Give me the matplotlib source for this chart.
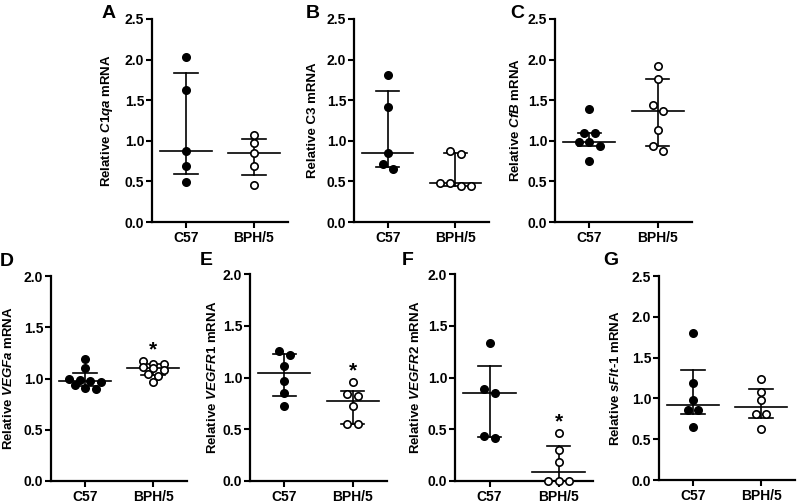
import numpy as np
import matplotlib
matplotlib.use('Agg')
import matplotlib.pyplot as plt

plt.rcParams['font.family'] = ['Liberation Sans', 'DejaVu Sans']
plt.rcParams['font.weight'] = 'bold'
plt.rcParams['mathtext.fontset'] = 'custom'
plt.rcParams['mathtext.it'] = 'Liberation Sans:italic:bold'
plt.rcParams['mathtext.rm'] = 'Liberation Sans:bold'

#------------------------------------------------------------------------------#
# values (relative mRNA, one per animal)

groups = ['C57', 'BPH/5']

c1qa_c57 = [2.03, 1.63, 0.88, 0.69, 0.49]
c1qa_bph = [1.07, 0.97, 0.85, 0.69, 0.46]
c3_c57 = [1.81, 1.42, 0.85, 0.71, 0.65]
c3_bph = [0.87, 0.84, 0.48, 0.48, 0.44, 0.44]
cfb_c57 = [1.39, 1.09, 1.09, 0.99, 0.99, 0.93, 0.75]
cfb_bph = [1.92, 1.76, 1.44, 1.37, 1.13, 0.94, 0.87]
vegfa_c57 = [1.19, 1.10, 1.00, 0.99, 0.98, 0.97, 0.94, 0.91, 0.90]
vegfa_bph = [1.17, 1.14, 1.14, 1.11, 1.10, 1.08, 1.04, 1.02, 0.97]
vegfr1_c57 = [1.26, 1.22, 1.11, 0.97, 0.85, 0.72]
vegfr1_bph = [0.96, 0.84, 0.82, 0.72, 0.55, 0.55]
vegfr2_c57 = [1.33, 0.89, 0.85, 0.43, 0.42]
vegfr2_bph = [0.46, 0.30, 0.18, 0.0, 0.0, 0.0]
sflt1_c57 = [1.80, 1.19, 0.98, 0.86, 0.86, 0.65]
sflt1_bph = [1.24, 1.08, 0.98, 0.81, 0.81, 0.62]

letters = ['A', 'B', 'C', 'D', 'E', 'F', 'G']
ylabels = ['Relative $\\mathit{C1qa}$ mRNA', 'Relative C3 mRNA',
           'Relative $\\mathit{CfB}$ mRNA', 'Relative $\\mathit{VEGFa}$ mRNA',
           'Relative $\\mathit{VEGFR1}$ mRNA', 'Relative $\\mathit{VEGFR2}$ mRNA',
           'Relative $\\mathit{sFlt}$-$\\mathit{1}$ mRNA']
c57_sets = [c1qa_c57, c3_c57, cfb_c57, vegfa_c57, vegfr1_c57, vegfr2_c57, sflt1_c57]
bph_sets = [c1qa_bph, c3_bph, cfb_bph, vegfa_bph, vegfr1_bph, vegfr2_bph, sflt1_bph]
ytops = [2.5, 2.5, 2.5, 2.0, 2.0, 2.0, 2.5]
signif = [False, False, False, True, True, True, False]

#------------------------------------------------------------------------------#

W, H = 800, 503
# axes boxes in pixels: left, right, top, bottom
boxes = [(152, 288, 19, 222), (354, 489, 19, 222), (555, 692, 19, 222),
         (51, 187, 276, 481), (250, 387, 274, 481), (455, 593, 274, 481),
         (659, 795, 276, 480)]
label_gap = [37, 35, 33, 36, 31, 33, 37]
letter_xy = [(102, 5), (306, 5), (510, 5), (0, 253), (200, 252), (402, 252), (603, 252)]

fig = plt.figure(figsize=(W / 100, H / 100), dpi=100)


def swarm(ax, xc, vals, step=10.5, rowtol=6.0):
    """GraphPad-like scatter: close values share a centred row."""
    vals = sorted(vals, reverse=True)
    ypx = ax.transData.transform([(xc, v) for v in vals])[:, 1]
    x0 = ax.transData.transform((xc, 0))[0]
    rows, cur = [], [0]
    for i in range(1, len(vals)):
        if abs(ypx[cur[0]] - ypx[i]) < rowtol:
            cur.append(i)
        else:
            rows.append(cur)
            cur = [i]
    rows.append(cur)
    xs = np.zeros(len(vals))
    for r in rows:
        offs = (np.arange(len(r)) - (len(r) - 1) / 2) * step
        for j, i in enumerate(r):
            xs[i] = ax.transData.inverted().transform((x0 + offs[j], ypx[i]))[0]
    return xs, np.array(vals)


for k in range(7):
    l, r, t, b = boxes[k]
    ax = fig.add_axes([l / W, (H - b) / H, (r - l) / W, (b - t) / H])
    ax.set_xlim(-0.5, 1.5)
    ax.set_ylim(0, ytops[k])
    ticks = np.arange(0, ytops[k] + 0.01, 0.5)
    ax.set_yticks(ticks)
    ax.set_yticklabels(['%.1f' % v for v in ticks])
    ax.set_xticks([0, 1])
    ax.set_xticklabels(groups)
    for s in ['top', 'right']:
        ax.spines[s].set_visible(False)
    for s in ['left', 'bottom']:
        ax.spines[s].set_linewidth(1.6)
    ax.tick_params(axis='both', width=1.5, length=4, labelsize=10, pad=1.5)
    ax.tick_params(axis='x', labelsize=10, pad=2.5)
    ax.set_ylabel(ylabels[k], fontsize=9.5, fontweight='bold')
    ax.yaxis.set_label_coords(-label_gap[k] / (r - l), 0.5)

    for xc, vals, face in [(0, c57_sets[k], 'black'), (1, bph_sets[k], 'white')]:
        v = np.array(vals)
        q1, med, q3 = np.percentile(v, [25, 50, 75], method='weibull')
        ax.plot([xc, xc], [q1, q3], color='black', lw=1.2, zorder=2, clip_on=False)
        ax.plot([xc - 0.17, xc + 0.17], [q1, q1], color='black', lw=1.2, zorder=2, clip_on=False)
        ax.plot([xc - 0.17, xc + 0.17], [q3, q3], color='black', lw=1.2, zorder=2, clip_on=False)
        ax.plot([xc - 0.38, xc + 0.38], [med, med], color='black', lw=1.2, zorder=2, clip_on=False)
        xs, ys = swarm(ax, xc, vals)
        ax.plot(xs, ys, 'o', ms=5.3, mfc=face, mec='black', mew=1.2,
                zorder=3, clip_on=False)

    if signif[k]:
        ax.annotate('*', xy=(1, max(bph_sets[k])), xytext=(0, 4),
                    textcoords='offset points', ha='center', va='baseline',
                    fontsize=15, fontweight='bold')

    lx, ly = letter_xy[k]
    fig.text(lx / W, 1 - ly / H, letters[k], fontsize=14,
             fontweight='bold', ha='left', va='top')

plt.savefig('out.png', dpi=100)
